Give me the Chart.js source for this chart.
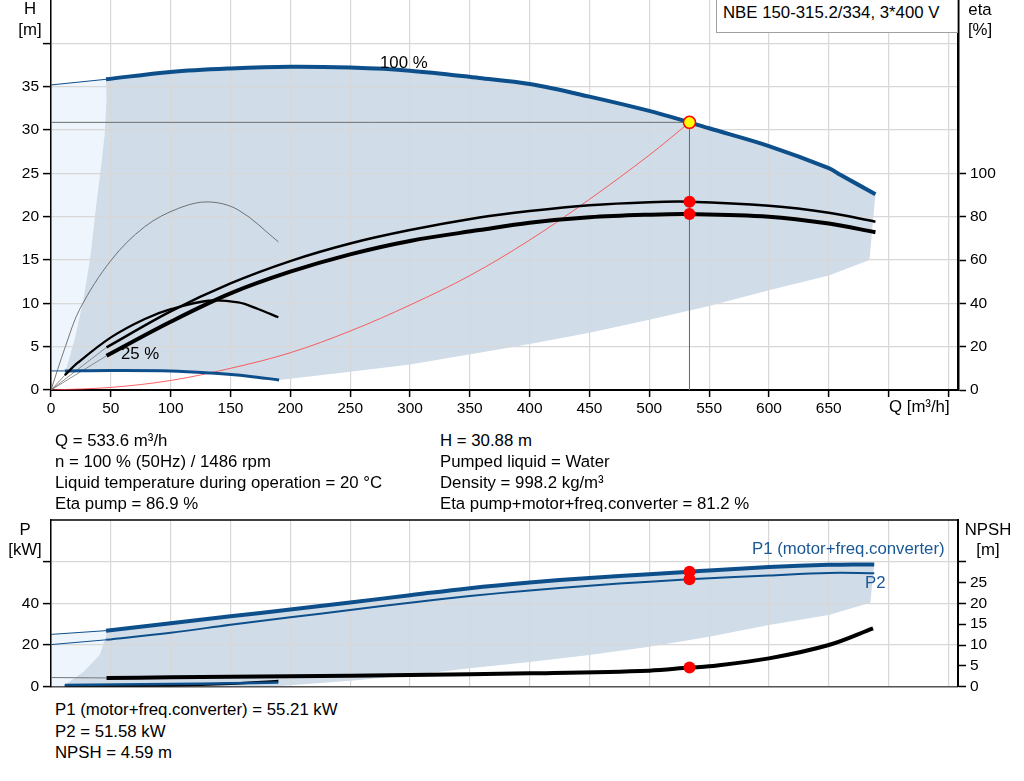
<!DOCTYPE html>
<html>
<head>
<meta charset="utf-8">
<title>NBE 150-315.2/334</title>
<script src="https://cdn.jsdelivr.net/npm/chart.js@4.4.1/dist/chart.umd.min.js"></script>
<style>
  html, body { margin: 0; padding: 0; background: #fff; }
  body { position: relative; width: 1024px; height: 781px; overflow: hidden;
         font-family: Arial, "Liberation Sans", sans-serif; font-size: 16.8px; color: #000; }
  .lbl { position: absolute; white-space: nowrap; line-height: 16px; }
  .c { text-align: center; width: 60px; margin-left: -30px; }
  .blue { color: #1a5796; }
  #legend { position: absolute; left: 716px; top: -2px; width: 242px; height: 35px;
            border: 1.5px solid #a0a0a0; background: #fff; box-sizing: border-box; }
  canvas { position: absolute; left: 0; }
</style>
</head>
<body>
<canvas id="pump" width="1024" height="440" style="top:-20px"></canvas>
<canvas id="power" width="1024" height="200" style="top:500px"></canvas>

<div id="legend"></div>
<div class="lbl" style="left:723px;top:5px">NBE 150-315.2/334, 3*400 V</div>

<div class="lbl c" style="left:30px;top:1px">H</div>
<div class="lbl c" style="left:30px;top:22px">[m]</div>
<div class="lbl c" style="left:980px;top:2px">eta</div>
<div class="lbl c" style="left:980px;top:22px">[%]</div>
<div class="lbl" style="left:889px;top:399px">Q [m³/h]</div>
<div class="lbl" style="left:380px;top:55px">100 %</div>
<div class="lbl" style="left:121px;top:346px">25 %</div>

<div class="lbl" style="left:55px;top:433px">Q = 533.6 m³/h</div>
<div class="lbl" style="left:55px;top:454px">n = 100 % (50Hz) / 1486 rpm</div>
<div class="lbl" style="left:55px;top:475px">Liquid temperature during operation = 20 °C</div>
<div class="lbl" style="left:55px;top:496px">Eta pump = 86.9 %</div>
<div class="lbl" style="left:440px;top:433px">H = 30.88 m</div>
<div class="lbl" style="left:440px;top:454px">Pumped liquid = Water</div>
<div class="lbl" style="left:440px;top:475px">Density = 998.2 kg/m³</div>
<div class="lbl" style="left:440px;top:496px">Eta pump+motor+freq.converter = 81.2 %</div>

<div class="lbl c" style="left:25px;top:522px">P</div>
<div class="lbl c" style="left:25px;top:542px">[kW]</div>
<div class="lbl c" style="left:988px;top:522px">NPSH</div>
<div class="lbl c" style="left:988px;top:542px">[m]</div>
<div class="lbl blue" style="left:752px;top:541px">P1 (motor+freq.converter)</div>
<div class="lbl blue" style="left:865px;top:575px">P2</div>

<div class="lbl" style="left:55px;top:702px">P1 (motor+freq.converter) = 55.21 kW</div>
<div class="lbl" style="left:55px;top:724px">P2 = 51.58 kW</div>
<div class="lbl" style="left:55px;top:745px">NPSH = 4.59 m</div>

<script>
// ---- duty point ----
const opQ = 533.6;
const opH = 30.88;
const opEtaPump = 86.9;
const opEtaTotal = 81.2;
const opP1 = 55.21;
const opP2 = 51.58;
const opNpsh = 4.59;

// ---- head curves [m] ----
const q100Ext = [0, 46];
const h100Ext = [35.2, 35.85];
const q100 = [46, 100, 150, 200, 250, 300, 358, 400, 450, 500, 533.6, 550, 600, 650, 660, 689];
const h100 = [35.85, 36.7, 37.1, 37.3, 37.2, 36.85, 36.0, 35.3, 33.85, 32.2, 30.88, 30.2, 28.15, 25.6, 24.8, 22.6];
const q25Ext = [0, 11.5];
const h25Ext = [2.2, 2.2];
const q25 = [11.5, 50, 100, 134, 165, 190.6];
const h25 = [2.2, 2.25, 2.2, 1.95, 1.6, 1.15];

// system curve
const qSys = [0, 50, 100, 150, 200, 250, 300, 350, 400, 450, 500, 533.6];
const hSys = [0, 0.3, 1.1, 2.5, 4.3, 6.8, 9.8, 13.2, 17.3, 22.0, 27.1, 30.88];

// operating range edges (head)
const qMinFlow = [11.5, 13.1, 20, 27, 33, 38.2, 42, 44.9, 46.3];
const hMinFlow = [2.2, 2.65, 6.0, 10.4, 15.5, 21.9, 26.0, 29.6, 33.5];
const qLowEdge = [684, 650, 600, 550, 500, 450, 400, 358, 300, 250, 190.6];
const hLowEdge = [15.0, 13.2, 11.5, 9.7, 8.1, 6.6, 5.3, 4.3, 2.95, 2.1, 1.15];

// ---- efficiency curves [%] ----
const qEta100 = [46.4, 100, 150, 200, 250, 300, 358, 400, 450, 500, 533.6, 600, 650, 689];
const etaPump100 = [19.7, 36.3, 49.2, 59.5, 67.6, 73.8, 79.6, 82.6, 85.3, 86.7, 86.9, 85.0, 81.8, 77.7];
const etaTotal100 = [15.8, 31.5, 44.6, 54.6, 62.6, 68.8, 73.8, 77.2, 79.7, 80.9, 81.2, 80.0, 76.8, 72.8];
const qEtaPump25 = [0, 12, 24.3, 50.4, 78.4, 106.4, 131.4, 156.5, 190];
const etaPump25 = [0, 20, 37.6, 60.0, 75.4, 83.8, 86.8, 83.1, 68.4];
const qEtaTotal25 = [11.5, 22.4, 50.4, 78.4, 100.8, 131.4, 156.5, 173, 190];
const etaTotal25 = [6.8, 12.6, 24.4, 32.8, 37.4, 41.2, 40.4, 37.4, 33.6];

// ---- power curves [kW] ----
const qP1Ext = [0, 46];
const p1Ext = [25.1, 26.9];
const qP1 = [46, 100, 150, 200, 250, 300, 350, 400, 450, 500, 533.6, 550, 600, 650, 670, 688];
const p1 = [26.9, 30.5, 33.8, 37.0, 40.4, 43.9, 47.3, 50.0, 52.2, 54.0, 55.21, 55.8, 57.4, 58.5, 58.7, 58.6];
const qP2Ext = [0, 46];
const p2Ext = [20.2, 22.5];
const qP2 = [46, 100, 150, 200, 250, 300, 350, 400, 450, 500, 533.6, 600, 650, 688];
const p2 = [22.5, 25.9, 29.7, 33.3, 36.8, 40.3, 43.5, 46.2, 48.5, 50.4, 51.58, 53.4, 54.6, 54.5];
const qP25 = [11.5, 100, 150, 190];
const p25 = [0.8, 1.3, 1.6, 2.0];

// operating range edges (power)
const qPMin = [11.5, 13.1, 27, 36.6, 40.7, 46.3];
const pPMin = [0, 1.5, 7.1, 12.8, 15.2, 24.8];
const qPLow = [684.7, 650, 600, 550, 500, 450, 400, 350, 300, 250, 200, 190];
const pPLow = [40.3, 34.4, 29.6, 24.0, 19.2, 15.2, 11.9, 8.8, 5.5, 2.8, 0.7, 0.3];

// ---- NPSH [m] ----
const qNpshExt = [0, 46.4];
const npshExt = [2.2, 2.1];
const qNpsh = [46.4, 100, 200, 300, 400, 500, 533.6, 550, 600, 650, 687];
const npsh = [2.1, 2.25, 2.5, 2.8, 3.2, 3.85, 4.59, 4.9, 6.8, 10.0, 14.0];
const qNpsh25 = [11.5, 100, 150, 190];
const npsh25 = [0.1, 0.3, 0.7, 1.35];

// ---- axes ----
const qMax = 758;
const qTicks = [0, 50, 100, 150, 200, 250, 300, 350, 400, 450, 500, 550, 600, 650, 700, 750];
const hTicks = [0, 5, 10, 15, 20, 25, 30, 35, 40];
const etaTicks = [0, 20, 40, 60, 80, 100];
const pTicks = [0, 20, 40, 60];
const npshTicks = [0, 5, 10, 15, 20, 25, 30];
const qLastLabel = 650;
const hLastLabel = 35;
const pLastLabel = 40;
const npshLastLabel = 25;

const BLUE = '#0d4f8b';
const DARK_AREA = '#d0dce8';
const LIGHT_AREA = '#eef5fc';
const GRID = '#d8d8d8';

Chart.defaults.font.family = 'Arial, "Liberation Sans", sans-serif';
Chart.defaults.font.size = 15.5;
Chart.defaults.color = '#000';

const xy = (xs, ys) => xs.map((x, i) => ({ x, y: ys[i] }));
const rev = a => a.slice().reverse();

function curve(xs, ys, axis, color, width) {
    return {
        data: xy(xs, ys),
        yAxisID: axis,
        borderColor: color,
        borderWidth: width,
        tension: 0.35,
        fill: false,
    };
}

function straight(points, axis, color, width) {
    return { data: points, yAxisID: axis, borderColor: color, borderWidth: width, tension: 0, fill: false };
}

function area(points, axis, color) {
    return { data: points, yAxisID: axis, backgroundColor: color, borderColor: 'rgba(0,0,0,0)', borderWidth: 0, tension: 0, fill: 'shape' };
}

function dots(points, axis, fillColor, borderColor) {
    return {
        data: points, yAxisID: axis, showLine: false,
        pointRadius: 6, pointBackgroundColor: fillColor,
        pointBorderColor: borderColor, pointBorderWidth: borderColor ? 1.5 : 0,
    };
}

const fixedTicks = list => axis => { axis.ticks = list.map(value => ({ value })); };
const labelUpTo = last => value => (value <= last ? value : '');

// top edge of the lower chart
const topFrame = {
    id: 'topFrame',
    afterDraw(chart) {
        if (!chart.options.plugins.topFrame) return;
        const { ctx, chartArea } = chart;
        ctx.save();
        ctx.strokeStyle = '#000';
        ctx.lineWidth = 1.5;
        ctx.beginPath();
        ctx.moveTo(chartArea.left, chartArea.top);
        ctx.lineTo(chartArea.right, chartArea.top);
        ctx.stroke();
        ctx.restore();
    }
};

const commonOptions = {
    responsive: false,
    animation: false,
    events: [],
    elements: { point: { radius: 0, hoverRadius: 0 } },
    plugins: {
        legend: { display: false },
        tooltip: { enabled: false },
        filler: { drawTime: 'beforeDraw' },
    },
};

// ---------- head / efficiency ----------
const darkHead = [
    ...xy(q100, h100),
    ...xy(qLowEdge, hLowEdge),
    ...xy(rev(q25), rev(h25)),
    ...xy(qMinFlow, hMinFlow),
];
const lightHead = [
    ...xy(q100Ext, h100Ext),
    ...xy(rev(qMinFlow), rev(hMinFlow)),
    { x: q25Ext[0], y: h25Ext[0] },
];

new Chart(document.getElementById('pump'), {
    type: 'line',
    data: {
        datasets: [
            dots([{ x: opQ, y: opH }], 'h', '#ffff00', '#ff0000'),
            dots(xy([opQ, opQ], [opEtaPump, opEtaTotal]), 'eta', '#ff0000'),
            curve(q100, h100, 'h', BLUE, 4),
            straight(xy(q100Ext, h100Ext), 'h', BLUE, 1),
            curve(qEta100, etaPump100, 'eta', '#000', 2.5),
            curve(qEta100, etaTotal100, 'eta', '#000', 4),
            curve(qEtaTotal25, etaTotal25, 'eta', '#000', 2.3),
            curve(qEtaPump25, etaPump25, 'eta', '#555', 0.8),
            curve(q25, h25, 'h', BLUE, 3),
            straight(xy(q25Ext, h25Ext), 'h', BLUE, 1),
            straight([{ x: 0, y: 0 }, { x: qEta100[0], y: etaPump100[0] }], 'eta', '#666', 0.7),
            straight([{ x: 0, y: 0 }, { x: qEta100[0], y: etaTotal100[0] }], 'eta', '#666', 0.7),
            straight([{ x: 0, y: 0 }, { x: qEtaTotal25[0], y: etaTotal25[0] }], 'eta', '#666', 0.7),
            curve(qSys, hSys, 'h', '#ff3b3b', 0.8),
            straight([{ x: 0, y: opH }, { x: opQ, y: opH }, { x: opQ, y: 0 }], 'h', '#6e6e6e', 1),
            area(darkHead, 'h', DARK_AREA),
            area(lightHead, 'h', LIGHT_AREA),
        ]
    },
    options: {
        ...commonOptions,
        layout: { padding: { top: 20, left: 0, right: 0, bottom: 0 } },
        scales: {
            x: {
                type: 'linear',
                min: 0,
                max: qMax,
                afterBuildTicks: fixedTicks(qTicks),
                afterFit: axis => { axis.height = 30; },
                ticks: { padding: 2, maxRotation: 0, autoSkip: false, callback: labelUpTo(qLastLabel) },
                grid: { color: GRID, lineWidth: 1.2, tickLength: 7, tickColor: '#000', tickWidth: 1.5 },
                border: { color: '#000', width: 2 },
            },
            h: {
                position: 'left',
                min: 0,
                max: 45,
                afterBuildTicks: fixedTicks(hTicks),
                afterFit: axis => { axis.width = 51; },
                ticks: { padding: 4, autoSkip: false, callback: labelUpTo(hLastLabel) },
                grid: { color: GRID, lineWidth: 1.2, tickLength: 8, tickColor: '#000', tickWidth: 1.5 },
                border: { color: '#000', width: 1.5 },
            },
            eta: {
                position: 'right',
                min: 0,
                max: 180,
                afterBuildTicks: fixedTicks(etaTicks),
                afterFit: axis => { axis.width = 66; },
                ticks: { padding: 4, autoSkip: false },
                grid: { drawOnChartArea: false, tickLength: 8, tickColor: '#000', tickWidth: 1.5 },
                border: { color: '#000', width: 2.5 },
            },
        },
    },
});

// ---------- power / NPSH ----------
const darkPower = [
    ...xy(qP1, p1),
    ...xy(qPLow, pPLow),
    { x: qPMin[0], y: pPMin[0] },
    ...xy(qPMin, pPMin),
];
const lightPower = [
    ...xy(qP1Ext, p1Ext),
    ...xy(rev(qPMin), rev(pPMin)),
    { x: 0, y: 0 },
];

new Chart(document.getElementById('power'), {
    type: 'line',
    plugins: [topFrame],
    data: {
        datasets: [
            dots(xy([opQ, opQ], [opP1, opP2]), 'p', '#ff0000'),
            dots([{ x: opQ, y: opNpsh }], 'npsh', '#ff0000'),
            curve(qP1, p1, 'p', BLUE, 4),
            straight(xy(qP1Ext, p1Ext), 'p', BLUE, 1),
            curve(qP2, p2, 'p', BLUE, 2),
            straight(xy(qP2Ext, p2Ext), 'p', BLUE, 1),
            curve(qNpsh, npsh, 'npsh', '#000', 4),
            straight(xy(qNpshExt, npshExt), 'npsh', '#777', 1),
            curve(qP25, p25, 'p', BLUE, 2.5),
            curve(qNpsh25, npsh25, 'npsh', '#000', 2.5),
            area(darkPower, 'p', DARK_AREA),
            area(lightPower, 'p', LIGHT_AREA),
        ]
    },
    options: {
        ...commonOptions,
        plugins: { ...commonOptions.plugins, topFrame: true },
        layout: { padding: { top: 20, left: 0, right: 0, bottom: 0 } },
        scales: {
            x: {
                type: 'linear',
                min: 0,
                max: qMax,
                afterBuildTicks: fixedTicks(qTicks),
                afterFit: axis => { axis.height = 13; },
                ticks: { display: false },
                grid: { color: GRID, lineWidth: 1.2, drawTicks: false },
                border: { color: '#555', width: 1.5 },
            },
            p: {
                position: 'left',
                min: 0,
                max: 80,
                afterBuildTicks: fixedTicks(pTicks),
                afterFit: axis => { axis.width = 51; },
                ticks: { padding: 4, autoSkip: false, callback: labelUpTo(pLastLabel) },
                grid: { color: GRID, lineWidth: 1.2, tickLength: 8, tickColor: '#000', tickWidth: 1.5 },
                border: { color: '#000', width: 1.5 },
            },
            npsh: {
                position: 'right',
                min: 0,
                max: 40,
                afterBuildTicks: fixedTicks(npshTicks),
                afterFit: axis => { axis.width = 66; },
                ticks: { padding: 4, autoSkip: false, callback: labelUpTo(npshLastLabel) },
                grid: { drawOnChartArea: false, tickLength: 8, tickColor: '#000', tickWidth: 1.5 },
                border: { color: '#000', width: 2 },
            },
        },
    },
});
</script>
</body>
</html>
